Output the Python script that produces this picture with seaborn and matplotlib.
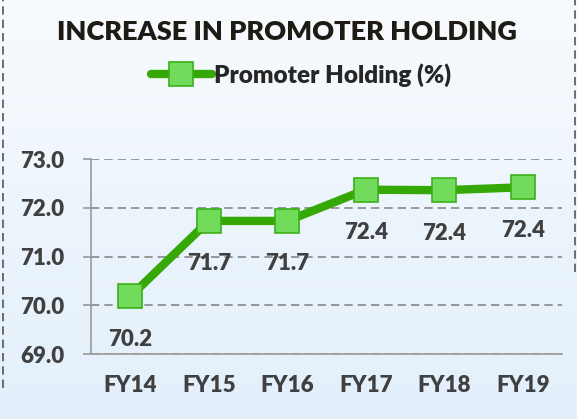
import matplotlib.pyplot as plt
import seaborn as sns
import numpy as np
import pandas as pd

# Datos
years = ['FY14', 'FY15', 'FY16', 'FY17', 'FY18', 'FY19']
holding = [70.18, 71.73, 71.73, 72.37, 72.36, 72.42]
y_ticks = [69.0, 70.0, 71.0, 72.0, 73.0]

df = pd.DataFrame({'year': years, 'holding': holding})

sns.set_theme(style='white')
plt.rcParams['font.family'] = ['Lato', 'DejaVu Sans']
plt.rcParams['font.weight'] = 'bold'

txt_color = '#404040'
fw = 'heavy'

fig = plt.figure(figsize=(5.77, 4.19), dpi=100)

# Fondo degradado azul claro
bg = fig.add_axes([0, 0, 1, 1], zorder=-10)
grad = np.linspace(0, 1, 256).reshape(-1, 1)
bg.imshow(grad, aspect='auto', cmap=sns.blend_palette(['#f8fbfe', '#e2effa'], as_cmap=True),
          extent=[0, 1, 0, 1])
bg.set_axis_off()

# Bordes discontinuos
fig.add_artist(plt.Line2D([0.006, 0.006], [0.075, 1.0], color='#555555', lw=1.2,
                          ls=(0, (5, 3)), transform=fig.transFigure))
fig.add_artist(plt.Line2D([0.997, 0.997], [0.35, 1.0], color='#555555', lw=1.2,
                          ls=(0, (5, 3)), transform=fig.transFigure))

ax = fig.add_axes([91 / 577, 1 - 354 / 419, (562 - 91) / 577, (354 - 159) / 419])
ax.patch.set_alpha(0)

x = np.arange(len(years))
df['x'] = x
sns.lineplot(data=df, x='x', y='holding', ax=ax, color='#35a805', lw=6,
             marker='s', markersize=17, markerfacecolor='#72db5c',
             markeredgecolor='#3bb018', markeredgewidth=1.2,
             label='Promoter Holding (%)', legend=False)

for xi, v in zip(x, holding):
    ax.annotate(f'{v:.1f}', (xi, v), xytext=(0, -31), textcoords='offset points',
                ha='center', va='center', fontsize=16, fontweight=fw, color=txt_color)

ax.set_xlim(-0.5, 5.5)
ax.set_ylim(69, 73)
ax.set_yticks(y_ticks)
ax.set_yticklabels([f'{t:.1f}' for t in y_ticks], fontsize=16, fontweight=fw, color=txt_color)
ax.set_xticks(x)
ax.set_xticklabels(years, fontsize=16, fontweight=fw, color=txt_color)
ax.set_xticks(np.arange(-0.5, 6, 1), minor=True)
ax.tick_params(axis='x', which='major', length=0, pad=15)
ax.tick_params(axis='x', which='minor', length=6, color='#999999', width=1.2, direction='out')
ax.tick_params(axis='y', length=6, color='#999999', width=1.2, direction='out', pad=13, left=True)
ax.set_xlabel('')
ax.set_ylabel('')

ax.grid(axis='y', color='#888888', ls=(0, (5, 3)), lw=1.2)
ax.set_axisbelow(True)
for s in ['top', 'right']:
    ax.spines[s].set_visible(False)
for s in ['left', 'bottom']:
    ax.spines[s].set_color('#999999')
    ax.spines[s].set_linewidth(1.2)

fig.text(0.497, 1 - 32 / 419, 'INCREASE IN PROMOTER HOLDING', ha='center', va='center',
         fontsize=19.5, fontweight=fw, color='#1e1b14')

h, l = ax.get_legend_handles_labels()
fig.legend(h, l, loc='center', bbox_to_anchor=(0.522, 1 - 75 / 419), frameon=False,
           handlelength=2.5, handletextpad=0.1, prop={'weight': fw, 'size': 17.5})

fig.savefig('out.png', dpi=100)
